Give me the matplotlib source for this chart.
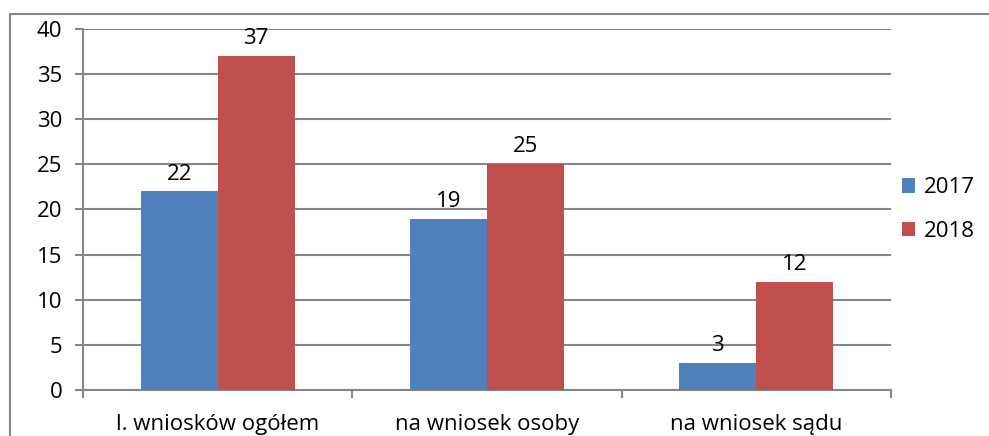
import matplotlib.pyplot as plt
import matplotlib.patches as mpatches
import numpy as np

categories = ["l. wniosków ogółem", "na wniosek osoby", "na wniosek sądu"]
values_2017 = [22, 19, 3]
values_2018 = [37, 25, 12]
series_names = ["2017", "2018"]

plt.rcParams['font.family'] = ['Open Sans', 'DejaVu Sans']
FS = 16

fig = plt.figure(figsize=(9.89, 4.36), dpi=100)
ax = fig.add_axes([0.0839, 0.1055, 0.817, 0.828])

# outer chart border (cut off at right and bottom like the original)
fig.patches.append(mpatches.Rectangle((10 / 989, -0.1), 1.2, 0.1 + (436 - 14) / 436,
                                      transform=fig.transFigure, fill=False,
                                      edgecolor='#868686', linewidth=1.5))

x = np.arange(len(categories))
width = 0.286
blue = '#4F81BD'
red = '#C0504D'
b1 = ax.bar(x - width / 2, values_2017, width, color=blue, label=series_names[0], zorder=3)
b2 = ax.bar(x + width / 2, values_2018, width, color=red, label=series_names[1], zorder=3)

for bars in (b1, b2):
    for rect in bars:
        ax.annotate(f"{int(rect.get_height())}",
                    (rect.get_x() + rect.get_width() / 2, rect.get_height()),
                    xytext=(0, 5), textcoords='offset points',
                    ha='center', va='bottom', fontsize=FS)

ax.set_xlim(-0.5, len(categories) - 0.5)
ax.set_ylim(0, 40)
ax.set_yticks(range(0, 41, 5))
ax.tick_params(axis='y', labelsize=FS, length=6, width=1.5, color='#868686', pad=9)

# category boundary ticks, labels in between
ax.set_xticks(np.arange(-0.5, len(categories), 1.0))
ax.set_xticklabels([])
ax.set_xticks(x, minor=True)
ax.set_xticklabels(categories, minor=True)
ax.tick_params(axis='x', which='major', length=6, width=1.5, color='#868686')
ax.tick_params(axis='x', which='minor', length=0, labelsize=FS, pad=17)

ax.yaxis.grid(True, color='#868686', linewidth=1.5, zorder=0)
ax.set_axisbelow(True)
for side in ('top', 'right'):
    ax.spines[side].set_visible(False)
for side in ('left', 'bottom'):
    ax.spines[side].set_color('#868686')
    ax.spines[side].set_linewidth(1.5)

ax.legend(loc='center left', bbox_to_anchor=(1.0, 0.5), frameon=False,
          fontsize=FS, handlelength=0.6, handleheight=0.6, handletextpad=0.4,
          labelspacing=1.0, borderaxespad=0.1)

fig.savefig('out.png', dpi=100)
